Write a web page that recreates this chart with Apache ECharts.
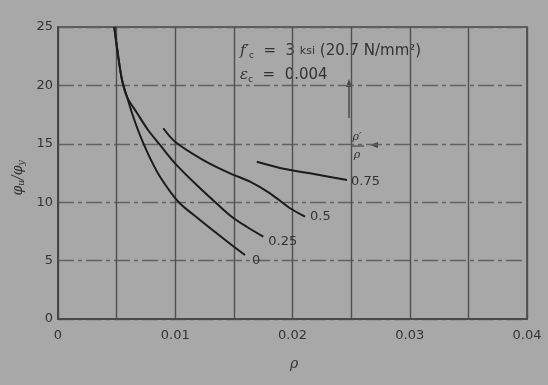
<!DOCTYPE html>
<html><head><meta charset="utf-8">
<script src="https://cdn.jsdelivr.net/npm/echarts@6/dist/echarts.min.js"></script>
<style>html,body{margin:0;padding:0;background:#a8a8a8}#c{width:548px;height:385px}</style>
</head><body><div id="c"></div>
<script>
// ρ values (x) and φu/φy (y) for each ρ'/ρ curve
const rho0  = [0.0048, 0.00512, 0.00546, 0.00589, 0.00631, 0.00682, 0.00734, 0.00785, 0.0087, 0.01026, 0.01211, 0.01481, 0.01595];
const duc0  = [25, 22.6, 20.46, 19.0, 17.64, 16.18, 14.9, 13.78, 12.18, 10.04, 8.48, 6.34, 5.48];
const rho25 = [0.0048, 0.00512, 0.00546, 0.00589, 0.00674, 0.00768, 0.0087, 0.00998, 0.01183, 0.01367, 0.01481, 0.01609, 0.01751];
const duc25 = [25, 22.6, 20.46, 19.0, 17.64, 16.18, 14.9, 13.33, 11.47, 9.76, 8.76, 7.9, 7.05];
const rho50 = [0.00898, 0.00998, 0.01239, 0.01467, 0.01638, 0.01808, 0.01979, 0.02107];
const duc50 = [16.33, 15.18, 13.61, 12.47, 11.76, 10.76, 9.48, 8.76];
const rho75 = [0.01695, 0.01936, 0.02149, 0.02465];
const duc75 = [13.47, 12.84, 12.47, 11.9];
const curveNames = ['0', '0.25', '0.5', '0.75'];
const xTickLabels = {0: '0', 0.01: '0.01', 0.02: '0.02', 0.03: '0.03', 0.04: '0.04'};
const yTicks = [0, 5, 10, 15, 20, 25];

const zip = (a, b) => a.map((v, i) => [v, b[i]]);
const curves = [zip(rho0, duc0), zip(rho25, duc25), zip(rho50, duc50), zip(rho75, duc75)];

const chart = echarts.init(document.getElementById('c'));
const ink = '#1c1c1c', txt = '#333';
const F = 'DejaVu Sans';
chart.setOption({
  backgroundColor: '#a8a8a8',
  animation: false,
  grid: {left: 58, right: 21, top: 27, bottom: 66, show: true, borderColor: '#444', borderWidth: 1.6},
  xAxis: {
    type: 'value', min: 0, max: 0.04, interval: 0.005,
    axisLine: {lineStyle: {color: '#444', width: 1.6}},
    axisTick: {show: false},
    axisLabel: {color: txt, fontSize: 13, fontFamily: F, margin: 10,
      formatter: v => { const k = Math.round(v * 1000) / 1000; return xTickLabels[k] !== undefined ? xTickLabels[k] : ''; }},
    splitLine: {lineStyle: {color: '#505050', width: 1.4}}
  },
  yAxis: {
    type: 'value', min: 0, max: 25, interval: 5,
    axisLine: {lineStyle: {color: '#444', width: 1.6}},
    axisTick: {show: false},
    axisLabel: {color: txt, fontSize: 13, fontFamily: F, margin: 5,
      formatter: v => yTicks.includes(v) ? String(v) : ''},
    splitLine: {lineStyle: {color: '#626262', width: 1.3, type: [16, 4, 4, 4]}}
  },
  series: curves.map((d, i) => ({
    type: 'line', data: d, smooth: 0.3, showSymbol: false, symbol: 'none',
    lineStyle: {color: ink, width: 2},
    endLabel: {show: true, formatter: curveNames[i], color: txt, fontSize: 13,
      fontFamily: F, distance: 4, offset: i === 0 ? [3, 6] : (i === 1 ? [1, 5] : (i === 2 ? [1, 0] : [0, 2]))}
  })),
  graphic: [
    {type: 'text', left: 240, top: 44, style: {
      rich: {i: {fontStyle: 'italic', fontSize: 15, fill: txt, fontFamily: 'DejaVu Serif'},
             s: {fontSize: 9, fill: txt, padding: [8, 0, 0, 0], fontFamily: F},
             n: {fontSize: 15, fill: txt, fontFamily: F},
             k: {fontSize: 11, fill: txt, fontFamily: F}},
      text: '{i|f′}{s|c}{n|  =  3 }{k|ksi}{n| (20.7 N/mm²)}'}},
    {type: 'text', left: 240, top: 68, style: {
      rich: {i: {fontStyle: 'italic', fontSize: 15, fill: txt, fontFamily: 'DejaVu Serif'},
             s: {fontSize: 9, fill: txt, padding: [8, 0, 0, 0], fontFamily: F},
             n: {fontSize: 15, fill: txt, fontFamily: F}},
      text: '{i|ε}{s|c}{n|  =  0.004}'}},
    {type: 'line', shape: {x1: 349, y1: 118, x2: 349, y2: 84}, style: {stroke: '#444', lineWidth: 1.4}},
    {type: 'polygon', shape: {points: [[349, 79], [346, 87], [352, 87]]}, style: {fill: '#444'}},
    {type: 'text', x: 357, y: 137, style: {text: 'ρ′', fontSize: 11, fill: txt, align: 'center', verticalAlign: 'middle', fontStyle: 'italic', fontFamily: 'DejaVu Serif'}},
    {type: 'line', shape: {x1: 351, y1: 146, x2: 364, y2: 146}, style: {stroke: txt, lineWidth: 1}},
    {type: 'text', x: 357, y: 155, style: {text: 'ρ', fontSize: 11, fill: txt, align: 'center', verticalAlign: 'middle', fontStyle: 'italic', fontFamily: 'DejaVu Serif'}},
    {type: 'polygon', shape: {points: [[370, 145], [378, 142], [378, 148]]}, style: {fill: '#444'}},
    {type: 'text', x: 294, y: 364, style: {text: 'ρ', fontSize: 14, fill: txt, align: 'center', verticalAlign: 'middle', fontStyle: 'italic', fontFamily: 'DejaVu Serif'}},
    {type: 'text', x: 18, y: 178, rotation: Math.PI / 2, style: {
      rich: {a: {fontSize: 14, fill: txt, fontStyle: 'italic', fontFamily: 'DejaVu Serif'},
             s: {fontSize: 9, fill: txt, padding: [7, 0, 0, 0], fontStyle: 'italic', fontFamily: 'DejaVu Serif'}},
      text: '{a|φ}{s|u}{a|/φ}{s|y}', align: 'center', verticalAlign: 'middle'}}
  ]
});
</script></body></html>
